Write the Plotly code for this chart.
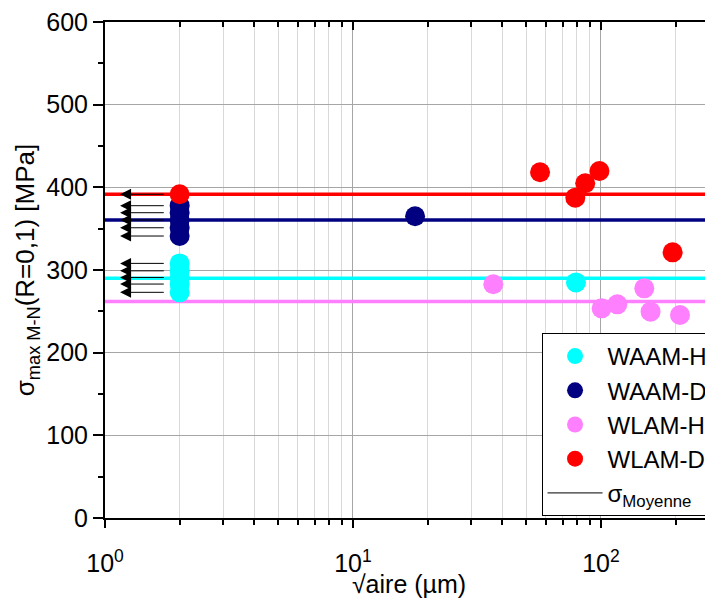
import numpy as np
import plotly.graph_objects as go

# ---------------- data ----------------
series_names = ["WAAM-H", "WAAM-D", "WLAM-H", "WLAM-D"]
series_colors = ["#00FFFF", "#000080", "#FF80FF", "#FF0000"]

waam_h_x = [2, 2, 2, 2, 2, 79.3]
waam_h_y = [308, 299, 291, 283, 273, 285]

waam_d_x = [2, 2, 2, 2, 2, 17.8]
waam_d_y = [377.8, 369.3, 360.5, 351.1, 341.1, 365]

wlam_h_x = [36.8, 100.6, 116.4, 149.5, 158.5, 208.3]
wlam_h_y = [282.7, 253.6, 258.5, 277.8, 249.6, 245.6]

wlam_d_x = [2, 56.8, 78.8, 86.4, 98.6, 194.5]
wlam_d_y = [391.6, 418.2, 387.5, 404.9, 419.7, 321.4]

mean_values = [290, 360.5, 262, 391.5]     # sigma_Moyenne per series
mean_x_span = [1, 1000]

# run-out arrows (points at sqrt(aire)=2 are lower bounds)
arrow_y = [308, 299, 291, 283, 273, 377.8, 369.3, 360.5, 351.1, 341.1, 391.6]
arrow_tail_x = 1.75
arrow_head_x = 1.15

x_tick_vals = [1, 10, 100, 1000]
x_tick_text = ["10<sup>0</sup>", "10<sup>1</sup>", "10<sup>2</sup>", "10<sup>3</sup>"]
x_minor_vals = [m * 10 ** e for e in range(0, 3) for m in range(2, 10)]
y_tick_vals = [0, 100, 200, 300, 400, 500, 600]

xs = [waam_h_x, waam_d_x, wlam_h_x, wlam_d_x]
ys = [waam_h_y, waam_d_y, wlam_h_y, wlam_d_y]

FONT = "Arial, Liberation Sans, sans-serif"
x_range = [0, np.log10(283)]

fig = go.Figure()

# mean lines
for m, c in zip(mean_values, series_colors):
    fig.add_trace(go.Scatter(x=mean_x_span, y=[m, m], mode="lines",
                             line=dict(color=c, width=3.5),
                             showlegend=False, hoverinfo="skip"))

# points
for name, c, x, y in zip(series_names, series_colors, xs, ys):
    fig.add_trace(go.Scatter(x=x, y=y, mode="markers", name=name,
                             marker=dict(color=c, size=20, line=dict(width=0))))

# legend entry for mean line
fig.add_trace(go.Scatter(x=[None], y=[None], mode="lines",
                         name="σ<sub>Moyenne</sub>",
                         line=dict(color="black", width=1)))

# helper trace for mirrored axes
fig.add_trace(go.Scatter(x=[None], y=[None], xaxis="x2", yaxis="y2",
                         showlegend=False, hoverinfo="skip"))

# arrows
for ya in arrow_y:
    fig.add_annotation(x=np.log10(arrow_head_x), y=ya,
                       ax=np.log10(arrow_tail_x), ay=ya,
                       xref="x", yref="y", axref="x", ayref="y",
                       text="", showarrow=True, arrowhead=2,
                       arrowsize=2.2, arrowwidth=1, arrowcolor="black",
                       standoff=0, startstandoff=0)

fig.update_layout(
    width=705, height=590,
    margin=dict(l=97, r=0, t=14, b=80, autoexpand=False),
    paper_bgcolor="white", plot_bgcolor="white",
    font=dict(family=FONT, size=24, color="black"),
    showlegend=True,
    legend=dict(x=0.718, y=0.004, xanchor="left", yanchor="bottom",
                bgcolor="white", bordercolor="black", borderwidth=1,
                font=dict(size=24, family=FONT), itemwidth=55,
                tracegroupgap=0),
    xaxis=dict(type="log", range=x_range,
               tickmode="array", tickvals=x_tick_vals, ticktext=x_tick_text,
               ticks="outside", ticklen=8, tickwidth=1.5, tickcolor="black",
               showline=True, linecolor="black", linewidth=2,
               showgrid=True, gridcolor="#a6a6a6", gridwidth=1,
               minor=dict(tickmode="array", tickvals=x_minor_vals,
                          ticks="outside", ticklen=5, tickcolor="black",
                          showgrid=True, gridcolor="#d9d9d9", gridwidth=1),
               tickfont=dict(size=25), ticklabelstandoff=14,
               ticklabeloverflow="allow",
               title=dict(text="√aire (µm)", font=dict(size=25), standoff=24),
               zeroline=False),
    yaxis=dict(range=[0, 600], tickmode="array", tickvals=y_tick_vals,
               ticks="outside", ticklen=10, tickwidth=1.5, tickcolor="black",
               showline=True, linecolor="black", linewidth=2,
               showgrid=True, gridcolor="#a6a6a6", gridwidth=1,
               minor=dict(dtick=50, ticks="outside", ticklen=5,
                          tickcolor="black", showgrid=False),
               tickfont=dict(size=25), ticklabeloverflow="allow",
               title=dict(text="σ<sub>max M-N</sub>(R=0,1) [MPa]",
                          font=dict(size=26), standoff=4),
               zeroline=False),
    xaxis2=dict(type="log", range=x_range, overlaying="x", side="top",
                anchor="y", tickmode="array", tickvals=x_tick_vals,
                ticks="inside", ticklen=8, tickwidth=1.5, tickcolor="black",
                showticklabels=False, showgrid=False,
                showline=True, linecolor="black", linewidth=2,
                minor=dict(tickmode="array", tickvals=x_minor_vals,
                           ticks="inside", ticklen=5, tickcolor="black",
                           showgrid=False),
                zeroline=False),
    yaxis2=dict(range=[0, 600], overlaying="y", side="right", anchor="x",
                tickmode="array", tickvals=y_tick_vals,
                ticks="inside", ticklen=5, tickwidth=1.5, tickcolor="black",
                showticklabels=False, showgrid=False, showline=False,
                zeroline=False),
)

fig.write_html("out.html")
